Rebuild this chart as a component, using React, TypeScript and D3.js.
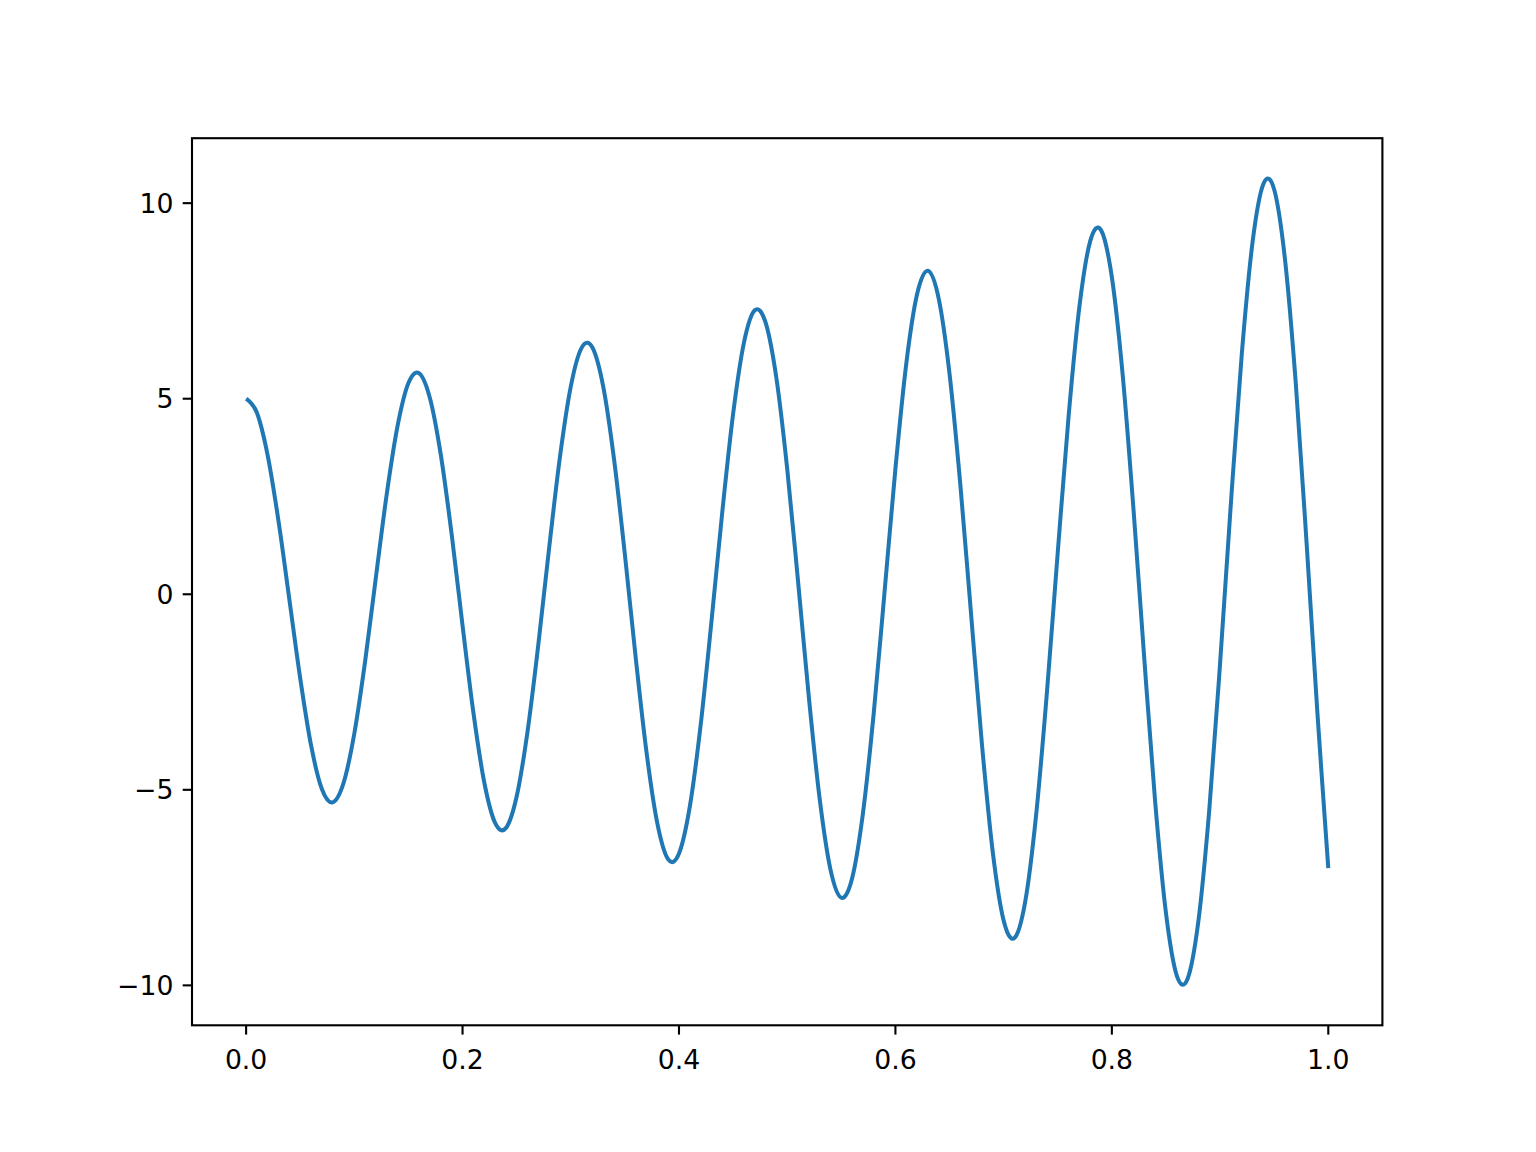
import React from "react";
import * as d3 from "d3";

// x positions, every 0.01
const xValues: number[] = [
  0, 0.01, 0.02, 0.03, 0.04, 0.05, 0.06, 0.07, 0.08, 0.09,
  0.1, 0.11, 0.12, 0.13, 0.14, 0.15, 0.16, 0.17, 0.18, 0.19,
  0.2, 0.21, 0.22, 0.23, 0.24, 0.25, 0.26, 0.27, 0.28, 0.29,
  0.3, 0.31, 0.32, 0.33, 0.34, 0.35, 0.36, 0.37, 0.38, 0.39,
  0.4, 0.41, 0.42, 0.43, 0.44, 0.45, 0.46, 0.47, 0.48, 0.49,
  0.5, 0.51, 0.52, 0.53, 0.54, 0.55, 0.56, 0.57, 0.58, 0.59,
  0.6, 0.61, 0.62, 0.63, 0.64, 0.65, 0.66, 0.67, 0.68, 0.69,
  0.7, 0.71, 0.72, 0.73, 0.74, 0.75, 0.76, 0.77, 0.78, 0.79,
  0.8, 0.81, 0.82, 0.83, 0.84, 0.85, 0.86, 0.87, 0.88, 0.89,
  0.9, 0.91, 0.92, 0.93, 0.94, 0.95, 0.96, 0.97, 0.98, 0.99, 1.0,
];

// y values
const yValues: number[] = [
  5.0, 4.64, 3.54, 1.86, -0.14, -2.15, -3.86, -4.98, -5.32, -4.83,
  -3.56, -1.71, 0.45, 2.57, 4.31, 5.4, 5.65, 5.0, 3.55, 1.52,
  -0.8, -3.02, -4.8, -5.84, -5.98, -5.17, -3.52, -1.29, 1.18, 3.51,
  5.31, 6.3, 6.31, 5.31, 3.45, 1.02, -1.62, -4.04, -5.86, -6.78,
  -6.63, -5.43, -3.35, -0.7, 2.1, 4.61, 6.43, 7.26, 6.95, 5.53,
  3.21, 0.34, -2.63, -5.23, -7.04, -7.76, -7.26, -5.6, -3.03, 0.07,
  3.21, 5.89, 7.67, 8.27, 7.56, 5.64, 2.8, -0.54, -3.85, -6.6,
  -8.34, -8.79, -7.85, -5.65, -2.51, 1.07, 4.54, 7.35, 9.03, 9.31,
  8.11, 5.61, 2.17, -1.66, -5.3, -8.15, -9.75, -9.83, -8.35, -5.52,
  -1.77, 2.33, 6.12, 9.0, 10.49, 10.35, 8.56, 5.38, 1.29, -3.06, -7.0,
];

const xTicks: number[] = [0, 0.2, 0.4, 0.6, 0.8, 1.0];
const yTicks: number[] = [-10, -5, 0, 5, 10];

const W = 1536;
const H = 1152;
const L = 192;
const R = 1382.4;
const T = 138.2;
const B = 1025.3;

export default function App() {
  const pts = xValues.map((x, i) => ({ x, y: yValues[i] }));
  const [x0, x1] = d3.extent(xValues) as [number, number];
  const xp = (x1 - x0) * 0.05;
  // y range of the drawn curve (extremes read at peak 10.6 and trough -9.99)
  const yLo = -9.99;
  const yHi = 10.63;
  const yp = (yHi - yLo) * 0.05;
  const xs = d3.scaleLinear().domain([x0 - xp, x1 + xp]).range([L, R]);
  const ys = d3.scaleLinear().domain([yLo - yp, yHi + yp]).range([B, T]);
  const line = d3
    .line<{ x: number; y: number }>()
    .x((d) => xs(d.x))
    .y((d) => ys(d.y))
    .curve(d3.curveCardinal.tension(0));
  const fmtX = (v: number) => v.toFixed(1);
  const fmtY = (v: number) => (v < 0 ? "\u2212" + Math.abs(v) : String(v));
  const font = "DejaVu Sans";
  const tickLen = 9.3;
  return (
    <svg width={W} height={H} style={{ display: "block", margin: -8 }}>
      <rect width={W} height={H} fill="#fff" />
      <path d={line(pts) || ""} fill="none" stroke="#1f77b4" strokeWidth={4} strokeLinejoin="round" strokeLinecap="butt" />
      <rect x={L} y={T} width={R - L} height={B - T} fill="none" stroke="#000" strokeWidth={2.1} />
      {xTicks.map((t) => (
        <g key={"x" + t}>
          <line x1={xs(t)} x2={xs(t)} y1={B} y2={B + tickLen} stroke="#000" strokeWidth={2.1} />
          <text x={xs(t)} y={B + tickLen + 9.3} dy="0.95em" textAnchor="middle" fontFamily={font} fontSize={26.7} fill="#000">
            {fmtX(t)}
          </text>
        </g>
      ))}
      {yTicks.map((t) => (
        <g key={"y" + t}>
          <line x1={L - tickLen} x2={L} y1={ys(t)} y2={ys(t)} stroke="#000" strokeWidth={2.1} />
          <text x={L - tickLen - 9.3} y={ys(t)} dy="0.36em" textAnchor="end" fontFamily={font} fontSize={26.7} fill="#000">
            {fmtY(t)}
          </text>
        </g>
      ))}
    </svg>
  );
}
